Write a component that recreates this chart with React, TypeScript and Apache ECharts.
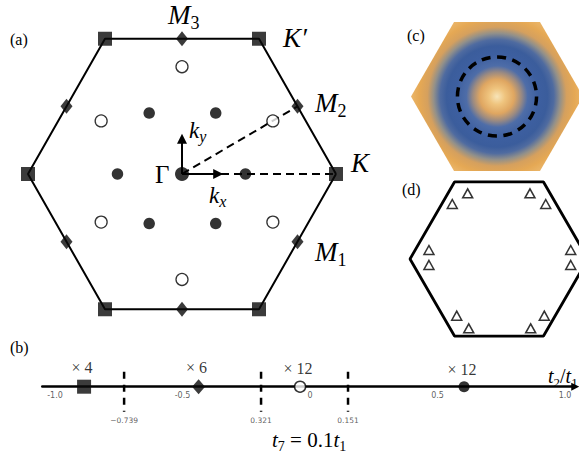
import React, { useEffect, useRef } from 'react';
import * as echarts from 'echarts';

// ---------- panel (a): Brillouin zone, units of |ΓK| ----------
const hexVertices: number[][] = [[1, 0], [0.5, 0.866], [-0.5, 0.866], [-1, 0], [-0.5, -0.866], [0.5, -0.866], [1, 0]];
const kPoints: number[][] = [[1, 0], [0.5, 0.866], [-0.5, 0.866], [-1, 0], [-0.5, -0.866], [0.5, -0.866]];
const mPoints: number[][] = [[0.75, 0.433], [0, 0.866], [-0.75, 0.433], [-0.75, -0.433], [0, -0.866], [0.75, -0.433]];
const filledDots: number[][] = [[0.412, 0], [0.219, 0.39], [-0.213, 0.39], [-0.419, 0], [-0.213, -0.317], [0.219, -0.317]];
const openDots: number[][] = [[0.59, 0.34], [0, 0.687], [-0.525, 0.34], [-0.525, -0.308], [0, -0.675], [0.59, -0.308]];
const gammaPoint: number[][] = [[0, 0]];
const pathGK: number[][] = [[0, 0], [1, 0]];
const pathGM: number[][] = [[0, 0], [0.75, 0.433]];
const kxArrow: number[][] = [[0, 0], [0.235, 0]];
const kyArrow: number[][] = [[0, 0], [0, 0.225]];

// ---------- panel (b): phase line ----------
const tickValues = [-1, -0.5, 0, 0.5, 1];
const tickLabels = ['-1.0', '-0.5', '0', '0.5', '1.0'];
const phasePos = [-0.886, -0.437, -0.039, 0.604];
const phaseKind = ['square', 'diamond', 'open', 'filled'];
const phaseMultiplicity = ['× 4', '× 6', '× 12', '× 12'];
const boundaryPos = [-0.729, -0.192, 0.149];
const boundaryLabels = ['−0.739', '0.321', '0.151'];

// ---------- panel (c): ring ----------
const ringRadius = 0.46;

// ---------- panel (d): triangles ----------
const trianglePoints: number[][] = [
  [-0.352, 0.738], [-0.525, 0.618], [0.348, 0.738], [0.525, 0.618],
  [-0.787, 0.101], [-0.787, -0.067], [0.806, 0.101], [0.806, -0.067],
  [-0.475, -0.637], [-0.34, -0.779], [0.509, -0.637], [0.356, -0.779],
];

const FAM = "'Liberation Serif', 'Times New Roman', serif";

type Tok = [string, 'i' | 'r' | 's' | 'si'];
function mathText(x: number, yc: number, toks: Tok[], size: number, subSize: number) {
  const pad = size / 2 + 0.3 * size - subSize / 2;
  const rich: any = {
    i: { font: `italic ${size}px ${FAM}`, lineHeight: size, verticalAlign: 'top' },
    r: { font: `${size}px ${FAM}`, lineHeight: size, verticalAlign: 'top' },
    s: { font: `${subSize}px ${FAM}`, lineHeight: subSize, padding: [pad, 0, 0, 0], verticalAlign: 'top' },
    si: { font: `italic ${subSize}px ${FAM}`, lineHeight: subSize, padding: [pad, 0, 0, 0], verticalAlign: 'top' },
  };
  const text = toks.map(([t, s]) => `{${s}|${t}}`).join('');
  return {
    type: 'text', x, y: yc - size / 2, z: 20,
    style: { text, rich, fill: '#000', align: 'left', verticalAlign: 'top' },
  };
}

function panelLabel(x: number, yc: number, t: string) {
  return {
    type: 'text', x, y: yc, z: 20,
    style: { text: t, font: `16px ${FAM}`, fill: '#000', align: 'left', verticalAlign: 'middle' },
  };
}

const hiddenAxis = (gridIndex: number, min: number, max: number) => ({
  gridIndex, type: 'value', min, max, show: false,
  axisLine: { show: false }, axisTick: { show: false }, axisLabel: { show: false }, splitLine: { show: false },
});

function buildOption(): any {
  const black = '#000';
  const series: any[] = [];

  // ----- (a) -----
  series.push({
    type: 'line', xAxisIndex: 0, yAxisIndex: 0, data: hexVertices, showSymbol: false, symbol: 'none',
    lineStyle: { color: black, width: 2 }, z: 1, silent: true, clip: false,
  });
  [pathGK, pathGM].forEach((p) => series.push({
    type: 'line', xAxisIndex: 0, yAxisIndex: 0, data: p, showSymbol: false, symbol: 'none',
    lineStyle: { color: black, width: 2, type: [8, 5] }, z: 1, silent: true, clip: false,
  }));
  series.push({
    type: 'lines', coordinateSystem: 'cartesian2d', xAxisIndex: 0, yAxisIndex: 0,
    data: [{ coords: kxArrow }, { coords: kyArrow }],
    symbol: ['none', 'triangle'], symbolSize: [8, 10],
    lineStyle: { color: black, width: 2, opacity: 1 }, z: 2, silent: true,
  });
  series.push({
    type: 'scatter', xAxisIndex: 0, yAxisIndex: 0, data: kPoints, symbol: 'rect', symbolSize: 14,
    itemStyle: { color: '#0a0a0a' }, z: 3, silent: true, clip: false,
  });
  series.push({
    type: 'scatter', xAxisIndex: 0, yAxisIndex: 0, data: mPoints, symbol: 'diamond', symbolSize: [12, 15],
    itemStyle: { color: '#0a0a0a' }, z: 3, silent: true, clip: false,
  });
  series.push({
    type: 'scatter', xAxisIndex: 0, yAxisIndex: 0, data: filledDots, symbol: 'circle', symbolSize: 11.5,
    itemStyle: { color: '#000' }, z: 3, silent: true,
  });
  series.push({
    type: 'scatter', xAxisIndex: 0, yAxisIndex: 0, data: openDots, symbol: 'circle', symbolSize: 12,
    itemStyle: { color: '#fff', borderColor: black, borderWidth: 1.3 }, z: 3, silent: true,
  });
  series.push({
    type: 'scatter', xAxisIndex: 0, yAxisIndex: 0, data: gammaPoint, symbol: 'circle', symbolSize: 14,
    itemStyle: { color: '#000' }, z: 3, silent: true,
  });

  // ----- (b) -----  (y: 0 at the axis line, 1 unit = 20 px)
  boundaryPos.forEach((p) => series.push({
    type: 'line', xAxisIndex: 1, yAxisIndex: 1, data: [[p, 0.75], [p, -1.25]], showSymbol: false, symbol: 'none',
    lineStyle: { color: black, width: 2.5, type: [7, 6] }, z: 2, silent: true, clip: false,
  }));
  series.push({
    type: 'scatter', xAxisIndex: 1, yAxisIndex: 1, symbolSize: 1, itemStyle: { color: 'rgba(0,0,0,0)' }, clip: false,
    data: boundaryPos.map((p, i) => ({ value: [p, -1.25], label: { formatter: boundaryLabels[i] } })),
    label: { show: true, position: 'bottom', distance: 4, fontSize: 7.5, color: '#333', fontFamily: "'DejaVu Sans', sans-serif" },
    z: 3, silent: true,
  });
  series.push({
    type: 'scatter', xAxisIndex: 1, yAxisIndex: 1, symbolSize: 1, itemStyle: { color: 'rgba(0,0,0,0)' }, clip: false,
    data: tickValues.map((v, i) => ({ value: [v, 0], label: { formatter: tickLabels[i] } })),
    label: { show: true, position: 'bottom', distance: 4, fontSize: 8, color: '#333', fontFamily: "'DejaVu Sans', sans-serif" },
    z: 3, silent: true,
  });
  const kindStyle: Record<string, any> = {
    square: { symbol: 'rect', symbolSize: 14, itemStyle: { color: '#0a0a0a' } },
    diamond: { symbol: 'diamond', symbolSize: [13, 15], itemStyle: { color: '#0a0a0a' } },
    open: { symbol: 'circle', symbolSize: 11, itemStyle: { color: '#fff', borderColor: black, borderWidth: 1.5 } },
    filled: { symbol: 'circle', symbolSize: 11, itemStyle: { color: '#000' } },
  };
  series.push({
    type: 'scatter', xAxisIndex: 1, yAxisIndex: 1, clip: false,
    data: phasePos.map((p, i) => ({ value: [p, 0], ...kindStyle[phaseKind[i]], label: { formatter: phaseMultiplicity[i] } })),
    label: {
      show: true, position: 'top', distance: 0, offset: [-2, -4], fontSize: 16, color: '#000', fontFamily: FAM,
      textBorderWidth: 0,
    },
    z: 4, silent: true,
  });

  // ----- (c) -----
  series.push({
    type: 'custom', coordinateSystem: 'cartesian2d', xAxisIndex: 2, yAxisIndex: 2, data: [[0, 0]], silent: true, z: 2,
    clip: false,
    renderItem: (_params: any, api: any) => {
      const pts = hexVertices.slice(0, 6).map((p) => api.coord(p));
      const c = api.coord([0, 0]);
      const unit = api.size([1, 0])[0];
      const fill = {
        type: 'radial', x: c[0], y: c[1], r: unit * 1.05, global: true,
        colorStops: [
          { offset: 0, color: '#F7E4B8' },
          { offset: 0.09, color: '#EFC47E' },
          { offset: 0.19, color: '#DFA661' },
          { offset: 0.27, color: '#9A8A82' },
          { offset: 0.34, color: '#4E6DA8' },
          { offset: 0.46, color: '#3D5FA0' },
          { offset: 0.56, color: '#3B5D9C' },
          { offset: 0.63, color: '#4F6BA0' },
          { offset: 0.7, color: '#92908A' },
          { offset: 0.77, color: '#D5A05E' },
          { offset: 0.86, color: '#E5A854' },
          { offset: 1, color: '#EEBD74' },
        ],
      };
      const rr = api.size([ringRadius, 0])[0];
      return {
        type: 'group',
        children: [
          { type: 'polygon', shape: { points: pts }, style: { fill, stroke: null } },
          { type: 'circle', shape: { cx: c[0], cy: c[1], r: rr }, style: { fill: null, stroke: '#000', lineWidth: 3.5, lineDash: [9, 6.5] } },
        ],
      };
    },
  });

  // ----- (d) -----
  series.push({
    type: 'line', xAxisIndex: 3, yAxisIndex: 3, data: hexVertices, showSymbol: false, symbol: 'none',
    lineStyle: { color: black, width: 2.8 }, z: 1, silent: true, clip: false,
  });
  series.push({
    type: 'scatter', xAxisIndex: 3, yAxisIndex: 3, data: trianglePoints, symbol: 'triangle', symbolSize: [10, 9],
    itemStyle: { color: '#fff', borderColor: black, borderWidth: 1.5 }, z: 3, silent: true, clip: false,
  });

  const g = (o: any) => ({ ...o, containLabel: false, outerBoundsMode: 'none' });
  return {
    animation: false,
    backgroundColor: '#fff',
    grid: [
      g({ left: 12.6, top: 10, width: 369.6, height: 328 }),
      g({ left: 42.25, top: 366.7, width: 533, height: 20 }),
      g({ left: 393.8, top: 10.5, width: 206.4, height: 172 }),
      g({ left: 392.2, top: 170, width: 213.6, height: 178 }),
    ],
    xAxis: [
      hiddenAxis(0, -1.1, 1.3),
      {
        gridIndex: 1, type: 'value', min: -1.05, max: 1.04, position: 'bottom',
        axisLine: { show: true, onZero: false, symbol: ['none', 'triangle'], symbolSize: [8, 8], lineStyle: { color: '#000', width: 2.5 } },
        axisTick: { show: false }, splitLine: { show: false }, axisLabel: { show: false },
      },
      hiddenAxis(2, -1.2, 1.2),
      hiddenAxis(3, -1.2, 1.2),
    ],
    yAxis: [
      hiddenAxis(0, -1.05, 1.05),
      hiddenAxis(1, 0, 1),
      hiddenAxis(2, -1, 1),
      hiddenAxis(3, -1, 1),
    ],
    graphic: [
      panelLabel(10, 39, '(a)'),
      panelLabel(10, 347, '(b)'),
      panelLabel(407, 35, '(c)'),
      panelLabel(402, 189, '(d)'),
      mathText(168, 15, [['M', 'i'], ['3', 's']], 27, 18),
      mathText(283, 38, [['K′', 'i']], 27, 18),
      mathText(315, 103, [['M', 'i'], ['2', 's']], 27, 18),
      mathText(351, 163, [['K', 'i']], 27, 18),
      mathText(315, 252, [['M', 'i'], ['1', 's']], 27, 18),
      mathText(155, 174, [['Γ', 'r']], 25, 16),
      mathText(189, 130, [['k', 'i'], ['y', 'si']], 23, 16),
      mathText(209, 195, [['k', 'i'], ['x', 'si']], 23, 16),
      mathText(548, 376, [['t', 'i'], ['2', 's'], ['/', 'r'], ['t', 'i'], ['1', 's']], 20, 13),
      mathText(272, 440, [['t', 'i'], ['7', 's'], [' = 0.1', 'r'], ['t', 'i'], ['1', 's']], 21, 14),
    ],
    series,
  };
}

export default function App() {
  const ref = useRef<HTMLDivElement>(null);
  useEffect(() => {
    if (!ref.current) return;
    const chart = echarts.init(ref.current, null, { renderer: 'svg' });
    chart.setOption(buildOption());
    return () => chart.dispose();
  }, []);
  return (
    <div
      ref={ref}
      style={{ position: 'fixed', left: 0, top: 0, width: 579, height: 455, background: '#fff' }}
    />
  );
}
